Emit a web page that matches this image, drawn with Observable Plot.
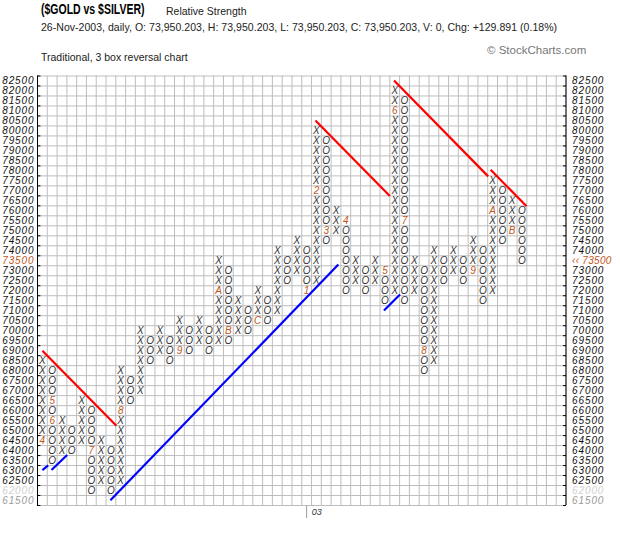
<!DOCTYPE html>
<html><head><meta charset="utf-8">
<script src="https://cdn.jsdelivr.net/npm/d3@7"></script>
<script src="https://cdn.jsdelivr.net/npm/@observablehq/plot@0.6"></script>
<style>
body{margin:0;background:#fff;}
#wrap{position:relative;width:620px;height:535px;overflow:hidden;background:#fff}
#chart{position:absolute;left:0;top:0}
#head{position:absolute;left:0;top:0}
</style></head><body>
<div id="wrap">
<div id="chart"></div>
<svg id="head" width="620" height="70" font-family="Liberation Sans, Arial, sans-serif">
  <g transform="translate(41,14) scale(0.75,1)"><text x="0" y="0" font-size="14" font-weight="bold" fill="#000">($GOLD vs $SILVER)</text></g>
  <text x="166" y="14.5" font-size="10.5" fill="#222">Relative Strength</text>
  <text x="41" y="31" font-size="10.5" fill="#222" textLength="516" lengthAdjust="spacing">26-Nov-2003, daily, O: 73,950.203, H: 73,950.203, L: 73,950.203, C: 73,950.203, V: 0, Chg: +129.891 (0.18%)</text>
  <text x="41" y="61" font-size="10.5" fill="#222">Traditional, 3 box reversal chart</text>
  <text x="487" y="54" font-size="11.5" fill="#777">© StockCharts.com</text>
</svg>
</div>
<script>
// ---- data ----
const boxSize = 500;
const rowTop = 82500, rowBottom = 61500;
const colType = ["X","O","X","O","X","O","X","O","X","O",
                 "X","O","X","O","X","O","X","O","X","O",
                 "X","O","X","O","X","O","X","O","X","O",
                 "X","O","X","O","X","O","X","O","X","O",
                 "X","O","X","O","X","O","X","O","X","O"];
const colLow  = [64500,63500,64000,64000,64500,62000,62500,62000,62500,66500,
                 67000,68500,69000,68500,69000,69000,69500,69000,69500,69500,
                 70000,70000,70500,70500,71000,72500,73000,72000,72500,74500,
                 75000,72000,72500,72000,72500,71500,72000,71500,72000,68000,
                 68500,72500,73000,72500,73000,71500,72000,74500,75000,73500];
const colHigh = [68500,68000,65500,65000,66500,66000,64500,64000,68000,67500,
                 70000,69500,70000,69500,70500,70000,70500,70000,73500,73000,
                 71500,71000,72000,71500,74000,73500,74500,74000,80000,79500,
                 76000,75500,73500,73000,73500,73000,82000,81500,73500,73000,
                 74000,73500,74000,73500,74500,74000,77500,77000,76500,76000];
const monthCol   = [0,1,1,5,8,14,18,19,22,27,28,29,31,35,36,37,39,44,46,48];
const monthPrice = [64500,66500,65500,64000,66000,69000,72000,70000,70500,72000,
                    77000,75000,75500,73000,81000,75500,69000,73000,76000,75000];
const monthText  = ["4","5","6","7","8","9","A","B","C","1",
                    "2","3","4","5","6","7","8","9","A","B"];
const resistanceLines = [[0,69000,7.56,65240],[27.9,80525,35.5,76740],
                         [35.93,82525,45.55,77725],[45.8,78060,49.47,76225]];
const supportLines = [[0,63025,0.59,63260],[0.93,63025,2.53,63775],
                      [6.95,61510,30.24,73310],[34.9,71010,36.54,71810]];
const yearCols = [27];
const yearLabels = ["03"];
const lastPrice = 73500;
const nCols = 54;

// ---- build ----
const boxes = [];
colType.forEach((t, i) => {
  for (let p = colLow[i]; p <= colHigh[i]; p += boxSize) {
    const m = monthCol.findIndex((c, j) => c === i && monthPrice[j] === p);
    boxes.push({col: i, price: p, text: m >= 0 ? monthText[m] : t, month: m >= 0});
  }
});
const rows = d3.range(rowBottom, rowTop + 1, boxSize);
const hBounds = d3.range(rowBottom - boxSize / 2, rowTop + boxSize, boxSize);
const vBounds = d3.range(-0.5, nCols, 1);
const orange = "#c0561a";
const labFill = d => d === lastPrice ? orange : d === rowBottom + boxSize ? "#cfcfcf" : d === rowBottom ? "#999" : "#111";

const chart = Plot.plot({
  width: 620, height: 535,
  marginLeft: 37, marginRight: 54.5, marginTop: 75.5, marginBottom: 30,
  style: {fontFamily: "Liberation Sans, Arial, sans-serif", background: "transparent"},
  x: {domain: [-0.5, nCols - 0.5], axis: null},
  y: {domain: [rowBottom - boxSize / 2, rowTop + boxSize / 2], axis: null},
  marks: [
    Plot.ruleX(vBounds, {stroke: "#bdbdbd", strokeWidth: 1, strokeOpacity: 1}),
    Plot.ruleY(hBounds, {stroke: "#bdbdbd", strokeWidth: 1, strokeOpacity: 1}),
    Plot.ruleX([vBounds[0], vBounds[vBounds.length - 1]], {stroke: "#000", strokeWidth: 1}),
    Plot.ruleY(hBounds, {x1: -0.5, x2: -0.15, stroke: "#000"}),
    Plot.ruleY(hBounds, {x1: nCols - 0.75, x2: nCols - 0.45, stroke: "#000"}),
    Plot.link(supportLines, {x1: d => d[0], y1: d => d[1], x2: d => d[2], y2: d => d[3], stroke: "#0000ff", strokeWidth: 2.2}),
    Plot.link(resistanceLines, {x1: d => d[0], y1: d => d[1], x2: d => d[2], y2: d => d[3], stroke: "#ff0000", strokeWidth: 2.2}),
    Plot.text(boxes, {x: "col", y: "price", text: "text", fontSize: 10, fontStyle: "italic",
      fill: d => d.month ? orange : "#333"}),
    Plot.text(rows, {y: d => d, frameAnchor: "left", textAnchor: "end", dx: -3, text: d => String(d),
      fontSize: 10, fontStyle: "italic", fill: labFill}),
    Plot.text(rows, {y: d => d, frameAnchor: "right", textAnchor: "start", dx: 6,
      text: d => d === lastPrice ? "‹‹ " + d : String(d),
      fontSize: 10, fontStyle: "italic", fill: labFill}),
    Plot.ruleX(yearCols, {x: d => d, y1: rowBottom - boxSize / 2, y2: rowBottom - boxSize / 2, stroke: "#999", insetBottom: -13, insetTop: 1}),
    Plot.text(yearCols, {x: d => d, frameAnchor: "bottom", dy: 9, dx: 5, textAnchor: "start",
      text: (d, i) => yearLabels[i], fontSize: 9, fontStyle: "italic", fill: "#333"})
  ]
});
d3.select(chart).selectAll("text").filter(function() { return /^\d{5}$/.test(this.textContent); })
  .attr("letter-spacing", "0.9");
d3.select(chart).selectAll("text").filter(function() { return /^‹‹/.test(this.textContent); })
  .attr("letter-spacing", "0.3");
document.getElementById("chart").appendChild(chart);
</script>
</body></html>
